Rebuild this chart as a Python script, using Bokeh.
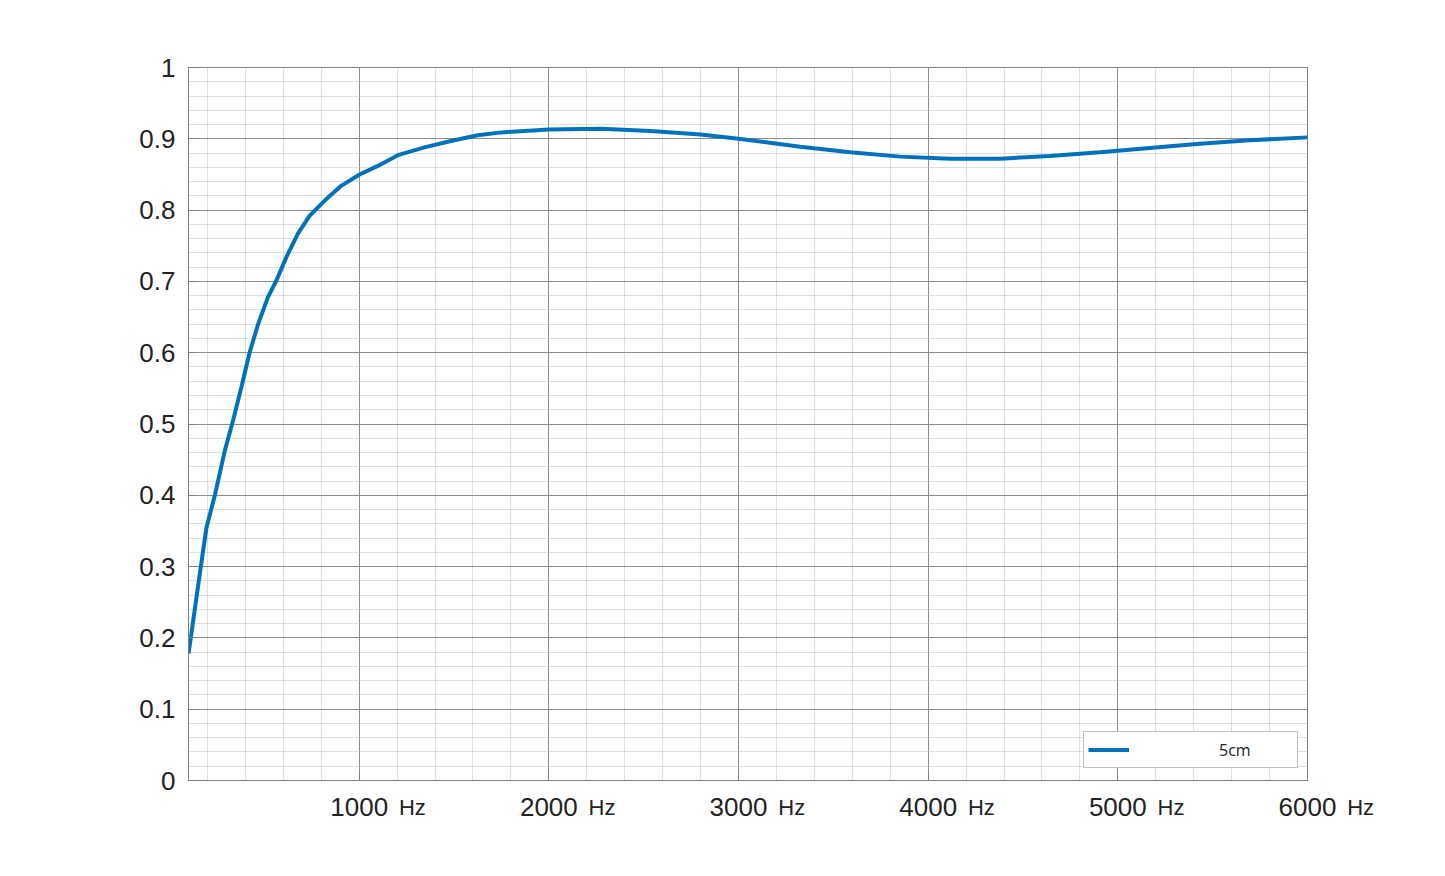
from bokeh.plotting import figure
from bokeh.models import FixedTicker, LinearAxis
from bokeh.embed import file_html
from bokeh.resources import INLINE

freq = [100, 112, 165, 195, 239, 291, 335, 379, 423, 467, 519, 563, 616, 677, 738, 817,
        905, 1002, 1098, 1204, 1344, 1484, 1625, 1750, 2000, 2274, 2537, 2800, 3000, 3326,
        3589, 3853, 4116, 4379, 4642, 4905, 5168, 5432, 5695, 6000]
absorption = [0.178, 0.20, 0.30, 0.355, 0.40, 0.462, 0.505, 0.552, 0.601, 0.640, 0.678,
              0.701, 0.734, 0.767, 0.792, 0.813, 0.834, 0.850, 0.862, 0.877, 0.888, 0.897,
              0.905, 0.909, 0.913, 0.914, 0.911, 0.906, 0.900, 0.889, 0.881, 0.875, 0.872,
              0.872, 0.876, 0.881, 0.887, 0.893, 0.898, 0.902]
series_name = "5cm"

x_major = [1000, 2000, 3000, 4000, 5000, 6000]
x_minor = [200 * i for i in range(1, 31)]
x_tick_numbers = ["1000", "2000", "3000", "4000", "5000", "6000"]
x_unit = "Hz"
y_major = [round(0.1 * i, 1) for i in range(11)]
y_minor = [round(0.02 * i, 2) for i in range(51)]
y_tick_labels = ["0", "0.1", "0.2", "0.3", "0.4", "0.5", "0.6", "0.7", "0.8", "0.9", "1"]

p = figure(frame_width=1119, frame_height=713, x_range=(100, 6000), y_range=(0, 1),
           output_backend="svg", toolbar_location=None,
           min_border_left=188, min_border_top=67, min_border_right=120, min_border_bottom=60)
p.background_fill_color = "white"
p.border_fill_color = "white"
p.outline_line_color = "#7f7f7f"
p.outline_line_width = 1

p.xaxis.ticker = FixedTicker(ticks=x_major, minor_ticks=x_minor)
p.yaxis.ticker = FixedTicker(ticks=y_major, minor_ticks=y_minor)
p.yaxis.major_label_overrides = {v: s for v, s in zip(y_major, y_tick_labels)}
p.xaxis.major_label_overrides = {v: s for v, s in zip(x_major, x_tick_numbers)}
for ax in (p.xaxis[0], p.yaxis[0]):
    ax.axis_line_color = "#7f7f7f"
    ax.major_tick_in = 8
    ax.major_tick_out = 0
    ax.major_tick_line_color = "#7f7f7f"
    ax.minor_tick_line_color = None
    ax.major_label_text_font = "Liberation Sans"
    ax.major_label_text_font_size = "26px"
    ax.major_label_text_color = "#222222"
p.yaxis.major_label_standoff = 9
p.xaxis.major_label_standoff = 13

# unit labels: centred on each tick, padded on the left with fixed-width spaces
pad = "\u2003\u2003\u2003\u2003\u2007\u00a0"
unit_axis = LinearAxis(ticker=FixedTicker(ticks=x_major),
                       major_label_overrides={v: pad + x_unit for v in x_major},
                       axis_line_color=None, major_tick_line_color=None,
                       minor_tick_line_color=None, major_label_standoff=-30,
                       major_label_text_font="Liberation Sans",
                       major_label_text_font_size="22px", major_label_text_color="#222222")
p.add_layout(unit_axis, "below")

p.xgrid.grid_line_color = "#8c8c8c"
p.ygrid.grid_line_color = "#8c8c8c"
p.xgrid.minor_grid_line_color = "#bdbdbd"
p.ygrid.minor_grid_line_color = "#bdbdbd"
p.xgrid.minor_grid_line_dash = "1 1"
p.ygrid.minor_grid_line_dash = "1 1"

p.line(freq, absorption, line_color="#0072BD", line_width=4, legend_label=series_name)

lg = p.legend[0]
lg.location = (895, 12)
lg.padding = 4
lg.margin = 0
lg.spacing = 0
lg.glyph_width = 41
lg.glyph_height = 27
lg.label_height = 27
lg.label_standoff = 90
lg.label_width = 74
lg.label_text_font = "Open Sans"
lg.label_text_font_size = "16px"
lg.label_text_color = "#222222"
lg.border_line_color = "#7f7f7f"
lg.border_line_width = 1
lg.background_fill_color = "white"
lg.background_fill_alpha = 1.0

open("out.html", "w").write(file_html(p, INLINE))
